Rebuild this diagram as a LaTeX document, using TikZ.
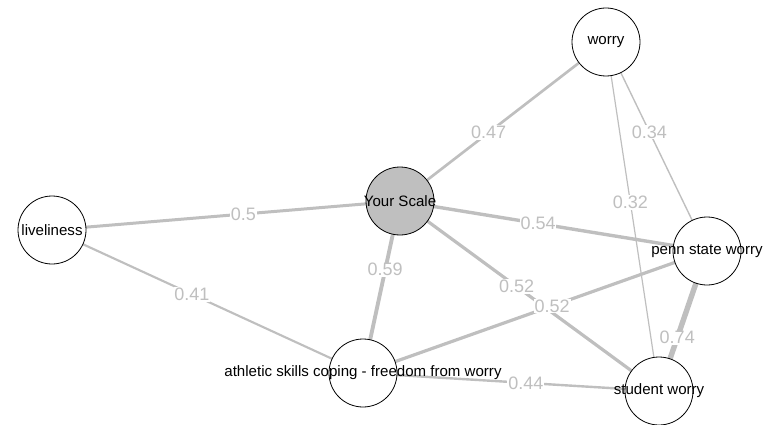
\documentclass[tikz,border=0pt]{standalone}
\usepackage{fontspec}
\setmainfont{Liberation Sans}
\usetikzlibrary{backgrounds}
\definecolor{edgegray}{RGB}{191,191,191}
\tikzset{
  vertex/.style={circle, draw=black, fill=white, line width=0.6pt, minimum size=51pt, inner sep=0pt},
  focal/.style={vertex, fill=edgegray},
  vtext/.style={font=\fontsize{11.3}{13}\selectfont, text=black, inner sep=0pt},
  edge/.style={draw=edgegray},
  elabel/.style={fill=white, text=edgegray, inner sep=0.6pt, font=\fontsize{13.5}{15}\selectfont}
}

\begin{document}
\begin{tikzpicture}[x=0.75pt, y=-0.75pt]
\useasboundingbox (0,0) rectangle (766,424);
% nodes
\node[focal, label={[vtext]center:Your Scale}] (ys) at (400,201) {};
\node[vertex, label={[vtext]center:worry}] (worry) at (606,42) {};
\node[vertex, label={[vtext]center:liveliness}] (live) at (52,230) {};
\node[vertex, label={[vtext]center:penn state worry}] (penn) at (707,251) {};
\node[vertex, label={[vtext]center:athletic skills coping - freedom from worry}] (athl) at (363,373) {};
\node[vertex, label={[vtext]center:student worry}] (stud) at (659,391) {};
% edges
\begin{scope}[on background layer]
\draw[edge, line width=2.0pt] (ys.center) -- node[elabel, pos=0.43] {0.47} (worry.center);
\draw[edge, line width=2.25pt] (ys.center) -- node[elabel, pos=0.45] {0.5} (live.center);
\draw[edge, line width=2.55pt] (ys.center) -- node[elabel, pos=0.45] {0.54} (penn.center);
\draw[edge, line width=2.9pt] (ys.center) -- node[elabel, pos=0.40] {0.59} (athl.center);
\draw[edge, line width=2.4pt] (ys.center) -- node[elabel, pos=0.45] {0.52} (stud.center);
\draw[edge, line width=2.4pt] (penn.center) -- node[elabel, pos=0.45] {0.52} (athl.center);
\draw[edge, line width=1.6pt] (live.center) -- node[elabel, pos=0.45] {0.41} (athl.center);
\draw[edge, line width=1.8pt] (stud.center) -- node[elabel, pos=0.45] {0.44} (athl.center);
\draw[edge, line width=1.05pt] (worry.center) -- node[elabel, pos=0.43] {0.34} (penn.center);
\draw[edge, line width=0.9pt] (worry.center) -- node[elabel, pos=0.46] {0.32} (stud.center);
\draw[edge, line width=4.05pt] (stud.center) -- node[elabel, pos=0.38] {0.74} (penn.center);
\end{scope}
\end{tikzpicture}
\end{document}
